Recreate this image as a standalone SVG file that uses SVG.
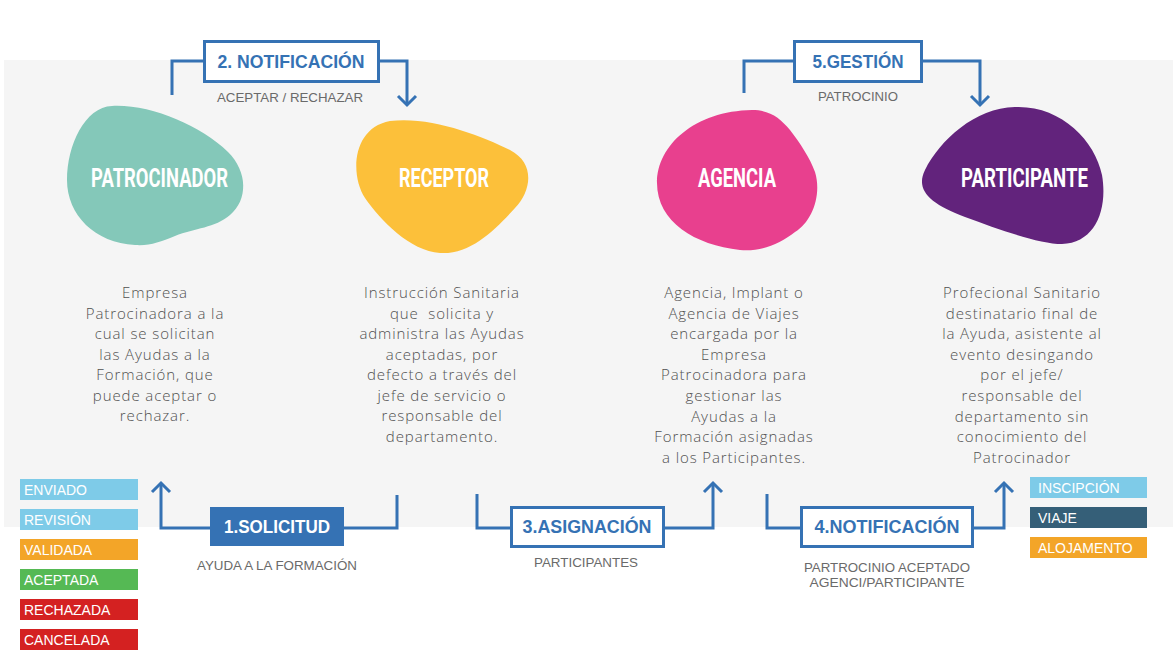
<svg xmlns="http://www.w3.org/2000/svg" width="1176" height="667" viewBox="0 0 1176 667">
<defs>
<style>
.conn{fill:none;stroke:#3572b4;stroke-width:3;stroke-linejoin:miter}
.box{fill:#ffffff;stroke:#3572b4;stroke-width:3}
.boxt{font-family:"Liberation Sans",Arial,sans-serif;font-weight:bold;font-size:18px;fill:#3572b4;text-anchor:middle}
.sub{font-family:"Liberation Sans",Arial,sans-serif;font-size:13px;fill:#6a6a6a;text-anchor:middle}
.blobt{font-family:Roboto,"Liberation Sans",sans-serif;font-weight:bold;font-size:25px;fill:#ffffff;text-anchor:middle}
.desc{font-family:"Open Sans","Liberation Sans",sans-serif;font-weight:300;font-size:15px;fill:#505050;text-anchor:middle;letter-spacing:0.9px}
.leg{font-family:"Liberation Sans",Arial,sans-serif;font-size:14px;fill:#ffffff}
</style>
</defs>
<rect x="0" y="0" width="1176" height="667" fill="#ffffff"/>
<rect x="4" y="60" width="1169" height="467" fill="#f5f5f5"/>

<g id="connectors">
<polyline class="conn" points="172,95 172,61 204,61"/>
<polyline class="conn" points="379,61 407,61 407,105"/>
<polyline class="conn" points="398,96 407,105 416,96"/>
<polyline class="conn" points="744,93 744,61 794,61"/>
<polyline class="conn" points="922,61 980,61 980,105"/>
<polyline class="conn" points="971,96 980,105 989,96"/>
<polyline class="conn" points="210,528 161,528 161,483"/>
<polyline class="conn" points="152,492 161,483 170,492"/>
<polyline class="conn" points="344,528 397,528 397,495"/>
<polyline class="conn" points="477,494 477,528 511,528"/>
<polyline class="conn" points="664,528 713,528 713,483"/>
<polyline class="conn" points="704,492 713,483 722,492"/>
<polyline class="conn" points="767,494 767,528 801,528"/>
<polyline class="conn" points="973,528 1004,528 1004,483"/>
<polyline class="conn" points="995,492 1004,483 1013,492"/>
</g>

<g id="step2">
<rect class="box" x="204.5" y="41.5" width="174" height="40"/>
<text class="boxt" x="291" y="68" textLength="147" lengthAdjust="spacingAndGlyphs">2. NOTIFICACIÓN</text>
<text class="sub" x="290" y="102" textLength="146" lengthAdjust="spacingAndGlyphs">ACEPTAR / RECHAZAR</text>
</g>
<g id="step5">
<rect class="box" x="794.5" y="41.5" width="127" height="40"/>
<text class="boxt" x="858" y="68" textLength="91" lengthAdjust="spacingAndGlyphs">5.GESTIÓN</text>
<text class="sub" x="858" y="101" textLength="80" lengthAdjust="spacingAndGlyphs">PATROCINIO</text>
</g>
<g id="step1">
<rect x="210" y="507" width="134" height="39" fill="#3572b4"/>
<text class="boxt" x="277" y="533" style="fill:#ffffff" textLength="106" lengthAdjust="spacingAndGlyphs">1.SOLICITUD</text>
<text class="sub" x="277" y="570" textLength="160" lengthAdjust="spacingAndGlyphs">AYUDA A LA FORMACIÓN</text>
</g>
<g id="step3">
<rect class="box" x="511.5" y="507.5" width="152" height="39"/>
<text class="boxt" x="587" y="533" textLength="129" lengthAdjust="spacingAndGlyphs">3.ASIGNACIÓN</text>
<text class="sub" x="586" y="567" textLength="104" lengthAdjust="spacingAndGlyphs">PARTICIPANTES</text>
</g>
<g id="step4">
<rect class="box" x="801.5" y="507.5" width="171" height="39"/>
<text class="boxt" x="887" y="533" textLength="145" lengthAdjust="spacingAndGlyphs">4.NOTIFICACIÓN</text>
<text class="sub" x="887" y="572" textLength="166" lengthAdjust="spacingAndGlyphs">PARTROCINIO ACEPTADO</text>
<text class="sub" x="887" y="587" textLength="155" lengthAdjust="spacingAndGlyphs">AGENCI/PARTICIPANTE</text>
</g>

<g id="patrocinador">
<path d="M112,106 C150,104 200,125 228,152 C248,172 248,200 230,215 C215,228 195,228 175,236 C160,242 150,246 135,245 C95,243 67,215 67,180 C67,145 85,107 112,106 Z" fill="#84c8b9"/>
<text class="blobt" x="159.5" y="187" textLength="137" lengthAdjust="spacingAndGlyphs">PATROCINADOR</text>
<text class="desc" y="298"><tspan x="155">Empresa</tspan><tspan x="155" dy="20.5">Patrocinadora a la</tspan><tspan x="155" dy="20.5">cual se solicitan</tspan><tspan x="155" dy="20.5">las Ayudas a la</tspan><tspan x="155" dy="20.5">Formación, que</tspan><tspan x="155" dy="20.5">puede aceptar o</tspan><tspan x="155" dy="20.5">rechazar.</tspan></text>
</g>
<g id="receptor">
<path d="M390,121 C430,116 480,135 510,150 C535,163 532,190 515,208 C495,230 470,255 440,253 C410,251 380,220 365,198 C350,175 352,128 390,121 Z" fill="#fcc03a"/>
<text class="blobt" x="444" y="187" textLength="90" lengthAdjust="spacingAndGlyphs">RECEPTOR</text>
<text class="desc" y="298" xml:space="preserve"><tspan x="442">Instrucción Sanitaria</tspan><tspan x="442" dy="20.5">que  solicita y</tspan><tspan x="442" dy="20.5">administra las Ayudas</tspan><tspan x="442" dy="20.5">aceptadas, por</tspan><tspan x="442" dy="20.5">defecto a través del</tspan><tspan x="442" dy="20.5">jefe de servicio o</tspan><tspan x="442" dy="20.5">responsable del</tspan><tspan x="442" dy="20.5">departamento.</tspan></text>
</g>
<g id="agencia">
<path d="M752,110 C770,110 780,118 790,130 C800,143 810,158 815,172 C822,195 812,222 795,232 C780,244 760,252 740,250 C695,245 657,222 657,183 C657,145 695,111 752,110 Z" fill="#e8408e"/>
<text class="blobt" x="737" y="187" textLength="78" lengthAdjust="spacingAndGlyphs">AGENCIA</text>
<text class="desc" y="298"><tspan x="734">Agencia, Implant o</tspan><tspan x="734" dy="20.6">Agencia de Viajes</tspan><tspan x="734" dy="20.6">encargada por la</tspan><tspan x="734" dy="20.6">Empresa</tspan><tspan x="734" dy="20.6">Patrocinadora para</tspan><tspan x="734" dy="20.6">gestionar las</tspan><tspan x="734" dy="20.6">Ayudas a la</tspan><tspan x="734" dy="20.6">Formación asignadas</tspan><tspan x="734" dy="20.6">a los Participantes.</tspan></text>
</g>
<g id="participante">
<path d="M1015,107 C1060,105 1095,140 1102,175 C1108,210 1095,243 1062,244 C1040,244 1000,230 965,217 C930,204 915,190 925,170 C940,140 975,108 1015,107 Z" fill="#62237c"/>
<text class="blobt" x="1024.5" y="187" textLength="127" lengthAdjust="spacingAndGlyphs">PARTICIPANTE</text>
<text class="desc" y="298"><tspan x="1022">Profecional Sanitario</tspan><tspan x="1022" dy="20.6">destinatario final de</tspan><tspan x="1022" dy="20.6">la Ayuda, asistente al</tspan><tspan x="1022" dy="20.6">evento desingando</tspan><tspan x="1022" dy="20.6">por el jefe/</tspan><tspan x="1022" dy="20.6">responsable del</tspan><tspan x="1022" dy="20.6">departamento sin</tspan><tspan x="1022" dy="20.6">conocimiento del</tspan><tspan x="1022" dy="20.6">Patrocinador</tspan></text>
</g>

<g id="legend-estado">
<rect x="20" y="479" width="118" height="21" fill="#7ecbe8"/>
<text class="leg" x="24" y="495">ENVIADO</text>
<rect x="20" y="509" width="118" height="21" fill="#7ecbe8"/>
<text class="leg" x="24" y="525">REVISIÓN</text>
<rect x="20" y="539" width="118" height="21" fill="#f3a528"/>
<text class="leg" x="24" y="555">VALIDADA</text>
<rect x="20" y="569" width="118" height="21" fill="#55b954"/>
<text class="leg" x="24" y="585">ACEPTADA</text>
<rect x="20" y="599" width="118" height="21" fill="#d42121"/>
<text class="leg" x="24" y="615">RECHAZADA</text>
<rect x="20" y="629" width="118" height="21" fill="#d42121"/>
<text class="leg" x="24" y="645">CANCELADA</text>
</g>
<g id="legend-tipo">
<rect x="1030" y="477" width="117" height="21" fill="#7ecbe8"/>
<text class="leg" x="1038" y="493">INSCIPCIÓN</text>
<rect x="1030" y="507" width="117" height="21" fill="#355f78"/>
<text class="leg" x="1038" y="523">VIAJE</text>
<rect x="1030" y="537" width="117" height="21" fill="#f3a528"/>
<text class="leg" x="1038" y="553">ALOJAMENTO</text>
</g>
</svg>
